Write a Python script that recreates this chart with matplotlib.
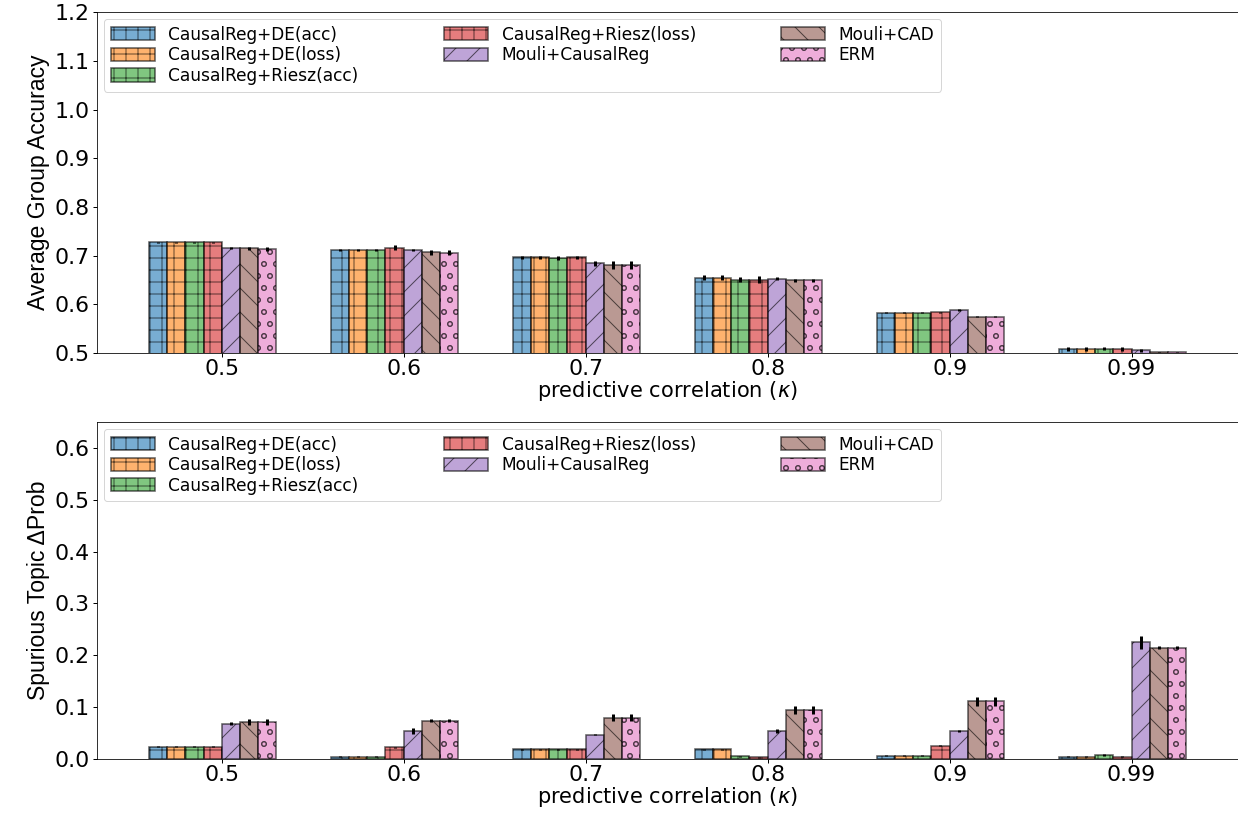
import numpy as np
import matplotlib
matplotlib.use("Agg")
import matplotlib.pyplot as plt

kappas = ["0.5", "0.6", "0.7", "0.8", "0.9", "0.99"]
methods = ["CausalReg+DE(acc)", "CausalReg+DE(loss)", "CausalReg+Riesz(acc)",
           "CausalReg+Riesz(loss)", "Mouli+CausalReg", "Mouli+CAD", "ERM"]
colors = ["tab:blue", "tab:orange", "tab:green", "tab:red",
          "tab:purple", "tab:brown", "tab:pink"]
hatches = ["+", "+", "+", "+", "/", "\\", "o"]

# average group accuracy, rows = methods, cols = kappa
acc = [
    [0.728, 0.711, 0.697, 0.655, 0.583, 0.509],
    [0.728, 0.711, 0.697, 0.655, 0.583, 0.509],
    [0.728, 0.711, 0.695, 0.651, 0.583, 0.509],
    [0.728, 0.716, 0.697, 0.651, 0.584, 0.509],
    [0.716, 0.711, 0.684, 0.653, 0.589, 0.506],
    [0.715, 0.707, 0.681, 0.649, 0.575, 0.502],
    [0.714, 0.706, 0.681, 0.649, 0.575, 0.502],
]
acc_err = [
    [0.001, 0.002, 0.003, 0.005, 0.001, 0.004],
    [0.001, 0.002, 0.003, 0.005, 0.001, 0.004],
    [0.001, 0.002, 0.004, 0.005, 0.001, 0.003],
    [0.001, 0.005, 0.003, 0.007, 0.001, 0.004],
    [0.002, 0.002, 0.005, 0.004, 0.002, 0.003],
    [0.003, 0.005, 0.008, 0.004, 0.001, 0.001],
    [0.004, 0.005, 0.008, 0.004, 0.001, 0.001],
]

# spurious topic delta prob
dprob = [
    [0.024, 0.004, 0.019, 0.019, 0.006, 0.004],
    [0.024, 0.004, 0.019, 0.019, 0.006, 0.004],
    [0.024, 0.004, 0.019, 0.005, 0.006, 0.008],
    [0.024, 0.023, 0.019, 0.003, 0.026, 0.004],
    [0.068, 0.054, 0.047, 0.054, 0.054, 0.225],
    [0.072, 0.074, 0.080, 0.095, 0.111, 0.215],
    [0.072, 0.074, 0.080, 0.095, 0.111, 0.215],
]
dprob_err = [
    [0.001, 0.001, 0.001, 0.001, 0.001, 0.001],
    [0.001, 0.001, 0.001, 0.001, 0.001, 0.001],
    [0.001, 0.001, 0.001, 0.001, 0.001, 0.002],
    [0.001, 0.001, 0.001, 0.001, 0.001, 0.001],
    [0.003, 0.005, 0.001, 0.003, 0.002, 0.012],
    [0.006, 0.003, 0.006, 0.008, 0.009, 0.003],
    [0.006, 0.003, 0.006, 0.008, 0.009, 0.003],
]

# dpi 72 so points == pixels
fig = plt.figure(figsize=(1238 / 72, 814 / 72), dpi=72)
ax1 = fig.add_axes([0.0784, 0.5663, 0.9216, 0.4187])
ax2 = fig.add_axes([0.0784, 0.0675, 0.9216, 0.4141])

x = np.arange(len(kappas))
w = 0.1


def draw(ax, vals, errs, ylim, yticks, ylabel):
    for i, m in enumerate(methods):
        pos = x + (i - 4) * w
        ax.bar(pos, vals[i], w, align="edge", color=colors[i], alpha=0.6,
               edgecolor="black", linewidth=1.6, hatch=hatches[i], label=m)
        ax.errorbar(pos + w / 2, vals[i], yerr=errs[i], fmt="none",
                    ecolor="black", elinewidth=3, capsize=0)
    ax.set_ylim(*ylim)
    ax.set_yticks(yticks)
    ax.set_yticklabels([f"{t:.1f}" for t in yticks])
    ax.set_xticks(x)
    ax.set_xticklabels(kappas)
    ax.tick_params(labelsize=22, length=4, width=1)
    ax.tick_params(axis="x", pad=1.5)
    ax.set_xlabel(r"predictive correlation ($\kappa$)", fontsize=21, labelpad=0)
    ax.set_ylabel(ylabel, fontsize=23, family="Liberation Sans", labelpad=4)
    ax.legend(loc="upper left", ncol=3, fontsize=17, handlelength=2.6,
              handleheight=0.8, labelspacing=0.15, columnspacing=5.0,
              borderaxespad=0.4)


draw(ax1, acc, acc_err, (0.5, 1.2), np.arange(0.5, 1.21, 0.1),
     "Average Group Accuracy")
draw(ax2, dprob, dprob_err, (0.0, 0.65), np.arange(0.0, 0.61, 0.1),
     "Spurious Topic ΔProb")

fig.savefig("out.png", dpi=72)
